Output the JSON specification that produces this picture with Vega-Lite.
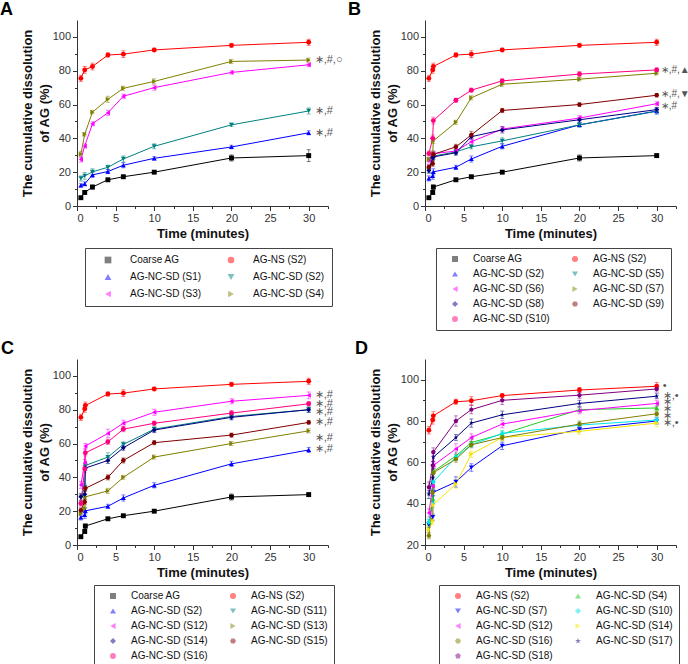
{
  "$schema": "https://vega.github.io/schema/vega-lite/v6.json",
  "padding": {"left": 0, "top": 1, "right": 14, "bottom": 1},
  "config": {
    "font": "Liberation Sans",
    "view": {"stroke": null},
    "axis": {"labelFont": "Liberation Sans", "labelFontSize": 11, "labelColor": "#333", "domainColor": "#333", "tickColor": "#333", "titleFont": "Liberation Sans", "titleFontSize": 13, "titleFontWeight": "bold", "titleColor": "#111", "grid": false, "labelOverlap": false, "labelPadding": 2, "tickCount": 40},
    "axisX": {"titlePadding": 4},
    "axisY": {"titlePadding": 1, "titleLineHeight": 17},
    "legend": {"labelFont": "Liberation Sans", "labelFontSize": 10, "labelColor": "#111"},
    "title": {"anchor": "start", "frame": "group", "fontSize": 18, "fontWeight": "bold", "font": "Liberation Sans", "color": "#000", "offset": 1, "baseline": "alphabetic"}
  },
  "datasets": {
    "A": [
      {"s":"Coarse AG","t":0.5,"v":4.9,"e":0.7},{"s":"Coarse AG","t":1,"v":8,"e":1},{"s":"Coarse AG","t":2,"v":11.2,"e":1.2},{"s":"Coarse AG","t":4,"v":15.5,"e":0.8},{"s":"Coarse AG","t":6,"v":17.3,"e":0.8},{"s":"Coarse AG","t":10,"v":20,"e":0.8},{"s":"Coarse AG","t":20,"v":28.4,"e":1.8},{"s":"Coarse AG","t":30,"v":29.8,"e":3.5},
      {"s":"AG-NS (S2)","t":0.5,"v":75.5,"e":1.8},{"s":"AG-NS (S2)","t":1,"v":80.5,"e":2},{"s":"AG-NS (S2)","t":2,"v":82.5,"e":2},{"s":"AG-NS (S2)","t":4,"v":89.3,"e":1.2},{"s":"AG-NS (S2)","t":6,"v":89.8,"e":2},{"s":"AG-NS (S2)","t":10,"v":92.3,"e":1},{"s":"AG-NS (S2)","t":20,"v":95,"e":1.2},{"s":"AG-NS (S2)","t":30,"v":96.8,"e":1.8},
      {"s":"AG-NC-SD (S1)","t":0.5,"v":12.2,"e":1},{"s":"AG-NC-SD (S1)","t":1,"v":13.1,"e":1.2},{"s":"AG-NC-SD (S1)","t":2,"v":18.4,"e":1.5},{"s":"AG-NC-SD (S1)","t":4,"v":20.4,"e":1.2},{"s":"AG-NC-SD (S1)","t":6,"v":24.1,"e":1.5},{"s":"AG-NC-SD (S1)","t":10,"v":28.2,"e":1},{"s":"AG-NC-SD (S1)","t":20,"v":34.9,"e":1},{"s":"AG-NC-SD (S1)","t":30,"v":43.3,"e":1.2},
      {"s":"AG-NC-SD (S2)","t":0.5,"v":16.3,"e":1.5},{"s":"AG-NC-SD (S2)","t":1,"v":17.8,"e":2},{"s":"AG-NC-SD (S2)","t":2,"v":20.2,"e":1.8},{"s":"AG-NC-SD (S2)","t":4,"v":22.9,"e":1.2},{"s":"AG-NC-SD (S2)","t":6,"v":27.8,"e":1.8},{"s":"AG-NC-SD (S2)","t":10,"v":35.3,"e":1.5},{"s":"AG-NC-SD (S2)","t":20,"v":48,"e":1},{"s":"AG-NC-SD (S2)","t":30,"v":56.2,"e":1.8},
      {"s":"AG-NC-SD (S3)","t":0.5,"v":27.5,"e":1.5},{"s":"AG-NC-SD (S3)","t":1,"v":35.5,"e":1.2},{"s":"AG-NC-SD (S3)","t":2,"v":48.6,"e":1.2},{"s":"AG-NC-SD (S3)","t":4,"v":55.1,"e":1.5},{"s":"AG-NC-SD (S3)","t":6,"v":64.9,"e":1.2},{"s":"AG-NC-SD (S3)","t":10,"v":70,"e":1.5},{"s":"AG-NC-SD (S3)","t":20,"v":79,"e":1},{"s":"AG-NC-SD (S3)","t":30,"v":83.5,"e":1},
      {"s":"AG-NC-SD (S4)","t":0.5,"v":30.6,"e":1.8},{"s":"AG-NC-SD (S4)","t":1,"v":42.4,"e":1},{"s":"AG-NC-SD (S4)","t":2,"v":55.5,"e":1},{"s":"AG-NC-SD (S4)","t":4,"v":63.1,"e":1.8},{"s":"AG-NC-SD (S4)","t":6,"v":69.6,"e":1.2},{"s":"AG-NC-SD (S4)","t":10,"v":73.7,"e":1.5},{"s":"AG-NC-SD (S4)","t":20,"v":85.5,"e":1.2},{"s":"AG-NC-SD (S4)","t":30,"v":86.3,"e":1.2}
    ],
    "B": [
      {"s":"Coarse AG","t":0.5,"v":4.9,"e":0.7},{"s":"Coarse AG","t":1,"v":8,"e":1},{"s":"Coarse AG","t":1.08,"v":11.2,"e":1.2},{"s":"Coarse AG","t":4,"v":15.5,"e":0.8},{"s":"Coarse AG","t":6,"v":17.3,"e":0.8},{"s":"Coarse AG","t":10,"v":20,"e":0.8},{"s":"Coarse AG","t":20,"v":28.4,"e":1.8},{"s":"Coarse AG","t":30,"v":29.8,"e":1},
      {"s":"AG-NS (S2)","t":0.5,"v":75.5,"e":1.8},{"s":"AG-NS (S2)","t":1,"v":80.5,"e":2},{"s":"AG-NS (S2)","t":1.08,"v":82.5,"e":2},{"s":"AG-NS (S2)","t":4,"v":89.3,"e":1.2},{"s":"AG-NS (S2)","t":6,"v":89.8,"e":2},{"s":"AG-NS (S2)","t":10,"v":92.3,"e":1},{"s":"AG-NS (S2)","t":20,"v":95,"e":1.2},{"s":"AG-NS (S2)","t":30,"v":96.8,"e":1.8},
      {"s":"AG-NC-SD (S2)","t":0.5,"v":16.3,"e":1.5},{"s":"AG-NC-SD (S2)","t":1,"v":17.8,"e":2},{"s":"AG-NC-SD (S2)","t":1.08,"v":20.2,"e":1.8},{"s":"AG-NC-SD (S2)","t":4,"v":22.9,"e":1.2},{"s":"AG-NC-SD (S2)","t":6,"v":27.8,"e":1.8},{"s":"AG-NC-SD (S2)","t":10,"v":35.3,"e":1.5},{"s":"AG-NC-SD (S2)","t":20,"v":48,"e":1},{"s":"AG-NC-SD (S2)","t":30,"v":56.2,"e":1.8},
      {"s":"AG-NC-SD (S5)","t":0.5,"v":21,"e":1.5},{"s":"AG-NC-SD (S5)","t":1,"v":28,"e":1.5},{"s":"AG-NC-SD (S5)","t":1.08,"v":29.5,"e":1.5},{"s":"AG-NC-SD (S5)","t":4,"v":32,"e":1.5},{"s":"AG-NC-SD (S5)","t":6,"v":35,"e":1.2},{"s":"AG-NC-SD (S5)","t":10,"v":38.5,"e":1.8},{"s":"AG-NC-SD (S5)","t":20,"v":48,"e":1.5},{"s":"AG-NC-SD (S5)","t":30,"v":56,"e":1.5},
      {"s":"AG-NC-SD (S6)","t":0.5,"v":27,"e":1.5},{"s":"AG-NC-SD (S6)","t":1,"v":30,"e":1.5},{"s":"AG-NC-SD (S6)","t":1.08,"v":31,"e":1.5},{"s":"AG-NC-SD (S6)","t":4,"v":32.5,"e":1.2},{"s":"AG-NC-SD (S6)","t":6,"v":38,"e":1.8},{"s":"AG-NC-SD (S6)","t":10,"v":45.5,"e":1.5},{"s":"AG-NC-SD (S6)","t":20,"v":52,"e":1.5},{"s":"AG-NC-SD (S6)","t":30,"v":60.5,"e":1.2},
      {"s":"AG-NC-SD (S7)","t":0.5,"v":27.5,"e":1.2},{"s":"AG-NC-SD (S7)","t":1,"v":31,"e":1.5},{"s":"AG-NC-SD (S7)","t":1.08,"v":38.5,"e":1.5},{"s":"AG-NC-SD (S7)","t":4,"v":49.5,"e":1.2},{"s":"AG-NC-SD (S7)","t":6,"v":64,"e":1.2},{"s":"AG-NC-SD (S7)","t":10,"v":72,"e":1.2},{"s":"AG-NC-SD (S7)","t":20,"v":75,"e":1},{"s":"AG-NC-SD (S7)","t":30,"v":78.5,"e":1},
      {"s":"AG-NC-SD (S8)","t":0.5,"v":21,"e":1.5},{"s":"AG-NC-SD (S8)","t":1,"v":28.5,"e":1.5},{"s":"AG-NC-SD (S8)","t":1.08,"v":29,"e":1.5},{"s":"AG-NC-SD (S8)","t":4,"v":31.5,"e":1.5},{"s":"AG-NC-SD (S8)","t":6,"v":41,"e":1.5},{"s":"AG-NC-SD (S8)","t":10,"v":45,"e":1.8},{"s":"AG-NC-SD (S8)","t":20,"v":51,"e":1.5},{"s":"AG-NC-SD (S8)","t":30,"v":57,"e":1.2},
      {"s":"AG-NC-SD (S9)","t":0.5,"v":23,"e":1.5},{"s":"AG-NC-SD (S9)","t":1,"v":25,"e":1.5},{"s":"AG-NC-SD (S9)","t":1.08,"v":30.5,"e":1.5},{"s":"AG-NC-SD (S9)","t":4,"v":35,"e":1.5},{"s":"AG-NC-SD (S9)","t":6,"v":42,"e":2.2},{"s":"AG-NC-SD (S9)","t":10,"v":56.5,"e":1.2},{"s":"AG-NC-SD (S9)","t":20,"v":60,"e":1},{"s":"AG-NC-SD (S9)","t":30,"v":65.5,"e":1},
      {"s":"AG-NC-SD (S10)","t":0.5,"v":31,"e":1.5},{"s":"AG-NC-SD (S10)","t":1,"v":40,"e":2},{"s":"AG-NC-SD (S10)","t":1.08,"v":50.5,"e":2},{"s":"AG-NC-SD (S10)","t":4,"v":62.5,"e":1.2},{"s":"AG-NC-SD (S10)","t":6,"v":68.5,"e":1.2},{"s":"AG-NC-SD (S10)","t":10,"v":74,"e":1.2},{"s":"AG-NC-SD (S10)","t":20,"v":78,"e":1.5},{"s":"AG-NC-SD (S10)","t":30,"v":80.5,"e":1.2}
    ],
    "C": [
      {"s":"Coarse AG","t":0.5,"v":4.9,"e":0.7},{"s":"Coarse AG","t":1,"v":8,"e":1},{"s":"Coarse AG","t":1.08,"v":11.2,"e":1.2},{"s":"Coarse AG","t":4,"v":15.5,"e":0.8},{"s":"Coarse AG","t":6,"v":17.3,"e":0.8},{"s":"Coarse AG","t":10,"v":20,"e":0.8},{"s":"Coarse AG","t":20,"v":28.4,"e":1.8},{"s":"Coarse AG","t":30,"v":29.8,"e":1},
      {"s":"AG-NS (S2)","t":0.5,"v":75.5,"e":1.8},{"s":"AG-NS (S2)","t":1,"v":80.5,"e":2},{"s":"AG-NS (S2)","t":1.08,"v":82.5,"e":2},{"s":"AG-NS (S2)","t":4,"v":89.3,"e":1.2},{"s":"AG-NS (S2)","t":6,"v":89.8,"e":2},{"s":"AG-NS (S2)","t":10,"v":92.3,"e":1},{"s":"AG-NS (S2)","t":20,"v":95,"e":1.2},{"s":"AG-NS (S2)","t":30,"v":96.8,"e":1.8},
      {"s":"AG-NC-SD (S2)","t":0.5,"v":16.3,"e":1.5},{"s":"AG-NC-SD (S2)","t":1,"v":17.8,"e":2},{"s":"AG-NC-SD (S2)","t":1.08,"v":20.2,"e":1.8},{"s":"AG-NC-SD (S2)","t":4,"v":22.9,"e":1.2},{"s":"AG-NC-SD (S2)","t":6,"v":27.8,"e":1.8},{"s":"AG-NC-SD (S2)","t":10,"v":35.3,"e":1.5},{"s":"AG-NC-SD (S2)","t":20,"v":48,"e":1.5},{"s":"AG-NC-SD (S2)","t":30,"v":56.2,"e":1.5},
      {"s":"AG-NC-SD (S11)","t":0.5,"v":28,"e":2},{"s":"AG-NC-SD (S11)","t":1,"v":34,"e":2},{"s":"AG-NC-SD (S11)","t":1.08,"v":47,"e":2},{"s":"AG-NC-SD (S11)","t":4,"v":52,"e":2.5},{"s":"AG-NC-SD (S11)","t":6,"v":59.5,"e":1.5},{"s":"AG-NC-SD (S11)","t":10,"v":68.5,"e":1.5},{"s":"AG-NC-SD (S11)","t":20,"v":76,"e":1.5},{"s":"AG-NC-SD (S11)","t":30,"v":80,"e":1.5},
      {"s":"AG-NC-SD (S12)","t":0.5,"v":35.5,"e":2},{"s":"AG-NC-SD (S12)","t":1,"v":48.5,"e":2},{"s":"AG-NC-SD (S12)","t":1.08,"v":58.5,"e":1.5},{"s":"AG-NC-SD (S12)","t":4,"v":66,"e":2.5},{"s":"AG-NC-SD (S12)","t":6,"v":72,"e":1.8},{"s":"AG-NC-SD (S12)","t":10,"v":78.5,"e":1.8},{"s":"AG-NC-SD (S12)","t":20,"v":85,"e":1.5},{"s":"AG-NC-SD (S12)","t":30,"v":88.5,"e":2},
      {"s":"AG-NC-SD (S13)","t":0.5,"v":18.5,"e":1.5},{"s":"AG-NC-SD (S13)","t":1,"v":21.5,"e":1.5},{"s":"AG-NC-SD (S13)","t":1.08,"v":28.5,"e":1.5},{"s":"AG-NC-SD (S13)","t":4,"v":32,"e":1.5},{"s":"AG-NC-SD (S13)","t":6,"v":40,"e":1.2},{"s":"AG-NC-SD (S13)","t":10,"v":52,"e":1.2},{"s":"AG-NC-SD (S13)","t":20,"v":60,"e":1.2},{"s":"AG-NC-SD (S13)","t":30,"v":67.5,"e":1.2},
      {"s":"AG-NC-SD (S14)","t":0.5,"v":28.5,"e":2},{"s":"AG-NC-SD (S14)","t":1,"v":30,"e":2},{"s":"AG-NC-SD (S14)","t":1.08,"v":45.5,"e":1.5},{"s":"AG-NC-SD (S14)","t":4,"v":50,"e":1.8},{"s":"AG-NC-SD (S14)","t":6,"v":57.5,"e":1.5},{"s":"AG-NC-SD (S14)","t":10,"v":68,"e":1.5},{"s":"AG-NC-SD (S14)","t":20,"v":75.5,"e":1.5},{"s":"AG-NC-SD (S14)","t":30,"v":80,"e":1.5},
      {"s":"AG-NC-SD (S15)","t":0.5,"v":20.5,"e":1.5},{"s":"AG-NC-SD (S15)","t":1,"v":25.5,"e":1.5},{"s":"AG-NC-SD (S15)","t":1.08,"v":33.5,"e":1.5},{"s":"AG-NC-SD (S15)","t":4,"v":40,"e":1.5},{"s":"AG-NC-SD (S15)","t":6,"v":50,"e":1.5},{"s":"AG-NC-SD (S15)","t":10,"v":60.5,"e":1.2},{"s":"AG-NC-SD (S15)","t":20,"v":65,"e":1.2},{"s":"AG-NC-SD (S15)","t":30,"v":72.5,"e":1},
      {"s":"AG-NC-SD (S16)","t":0.5,"v":24.5,"e":1.5},{"s":"AG-NC-SD (S16)","t":1,"v":45,"e":2},{"s":"AG-NC-SD (S16)","t":1.08,"v":54.5,"e":1.8},{"s":"AG-NC-SD (S16)","t":4,"v":61,"e":1.5},{"s":"AG-NC-SD (S16)","t":6,"v":68.5,"e":1.5},{"s":"AG-NC-SD (S16)","t":10,"v":72,"e":1.2},{"s":"AG-NC-SD (S16)","t":20,"v":78,"e":1.5},{"s":"AG-NC-SD (S16)","t":30,"v":83.5,"e":1.2}
    ],
    "D": [
      {"s":"AG-NS (S2)","t":0.5,"v":75.5,"e":1.8},{"s":"AG-NS (S2)","t":1,"v":80.5,"e":2},{"s":"AG-NS (S2)","t":1.08,"v":82.5,"e":2},{"s":"AG-NS (S2)","t":4,"v":89.3,"e":1.2},{"s":"AG-NS (S2)","t":6,"v":89.8,"e":2},{"s":"AG-NS (S2)","t":10,"v":92.3,"e":1},{"s":"AG-NS (S2)","t":20,"v":95,"e":1.2},{"s":"AG-NS (S2)","t":30,"v":96.8,"e":1.8},
      {"s":"AG-NC-SD (S4)","t":0.5,"v":30.6,"e":1.8},{"s":"AG-NC-SD (S4)","t":1,"v":42.4,"e":1.5},{"s":"AG-NC-SD (S4)","t":1.08,"v":55.5,"e":1.5},{"s":"AG-NC-SD (S4)","t":4,"v":63.1,"e":1.8},{"s":"AG-NC-SD (S4)","t":6,"v":69.6,"e":1.5},{"s":"AG-NC-SD (S4)","t":10,"v":73.7,"e":1.5},{"s":"AG-NC-SD (S4)","t":20,"v":85.5,"e":1.2},{"s":"AG-NC-SD (S4)","t":30,"v":86.3,"e":1.2},
      {"s":"AG-NC-SD (S7)","t":0.5,"v":30,"e":1.5},{"s":"AG-NC-SD (S7)","t":1,"v":33.5,"e":1.5},{"s":"AG-NC-SD (S7)","t":1.08,"v":45.5,"e":1.5},{"s":"AG-NC-SD (S7)","t":4,"v":50.5,"e":2.5},{"s":"AG-NC-SD (S7)","t":6,"v":57.5,"e":1.8},{"s":"AG-NC-SD (S7)","t":10,"v":68,"e":1.8},{"s":"AG-NC-SD (S7)","t":20,"v":76,"e":1.2},{"s":"AG-NC-SD (S7)","t":30,"v":80,"e":1.5},
      {"s":"AG-NC-SD (S10)","t":0.5,"v":31,"e":1.5},{"s":"AG-NC-SD (S10)","t":1,"v":40,"e":2},{"s":"AG-NC-SD (S10)","t":1.08,"v":50.5,"e":2},{"s":"AG-NC-SD (S10)","t":4,"v":62.5,"e":1.2},{"s":"AG-NC-SD (S10)","t":6,"v":68.5,"e":1.2},{"s":"AG-NC-SD (S10)","t":10,"v":74,"e":1.2},{"s":"AG-NC-SD (S10)","t":20,"v":78,"e":1.5},{"s":"AG-NC-SD (S10)","t":30,"v":80.5,"e":1.2},
      {"s":"AG-NC-SD (S12)","t":0.5,"v":35.5,"e":2},{"s":"AG-NC-SD (S12)","t":1,"v":48.5,"e":2},{"s":"AG-NC-SD (S12)","t":1.08,"v":58.5,"e":1.5},{"s":"AG-NC-SD (S12)","t":4,"v":66.5,"e":2.5},{"s":"AG-NC-SD (S12)","t":6,"v":72,"e":1.8},{"s":"AG-NC-SD (S12)","t":10,"v":78.5,"e":1.8},{"s":"AG-NC-SD (S12)","t":20,"v":85,"e":1.5},{"s":"AG-NC-SD (S12)","t":30,"v":88.5,"e":1.5},
      {"s":"AG-NC-SD (S14)","t":0.5,"v":27.5,"e":1.5},{"s":"AG-NC-SD (S14)","t":1,"v":31.5,"e":1.5},{"s":"AG-NC-SD (S14)","t":1.08,"v":39.5,"e":1.5},{"s":"AG-NC-SD (S14)","t":4,"v":49.5,"e":2},{"s":"AG-NC-SD (S14)","t":6,"v":64,"e":1.5},{"s":"AG-NC-SD (S14)","t":10,"v":72,"e":1.5},{"s":"AG-NC-SD (S14)","t":20,"v":75,"e":1.5},{"s":"AG-NC-SD (S14)","t":30,"v":79,"e":1.8},
      {"s":"AG-NC-SD (S16)","t":0.5,"v":24.5,"e":1.5},{"s":"AG-NC-SD (S16)","t":1,"v":45.5,"e":2},{"s":"AG-NC-SD (S16)","t":1.08,"v":55,"e":1.8},{"s":"AG-NC-SD (S16)","t":4,"v":61.5,"e":1.5},{"s":"AG-NC-SD (S16)","t":6,"v":68.5,"e":1.5},{"s":"AG-NC-SD (S16)","t":10,"v":72,"e":1.2},{"s":"AG-NC-SD (S16)","t":20,"v":78.5,"e":1.5},{"s":"AG-NC-SD (S16)","t":30,"v":83.5,"e":1.2},
      {"s":"AG-NC-SD (S17)","t":0.5,"v":44.5,"e":2},{"s":"AG-NC-SD (S17)","t":1,"v":52.5,"e":2},{"s":"AG-NC-SD (S17)","t":1.08,"v":62.5,"e":2},{"s":"AG-NC-SD (S17)","t":4,"v":72,"e":1.5},{"s":"AG-NC-SD (S17)","t":6,"v":79,"e":2},{"s":"AG-NC-SD (S17)","t":10,"v":83,"e":1.8},{"s":"AG-NC-SD (S17)","t":20,"v":88.5,"e":1.5},{"s":"AG-NC-SD (S17)","t":30,"v":92,"e":1.2},
      {"s":"AG-NC-SD (S18)","t":0.5,"v":48,"e":2.5},{"s":"AG-NC-SD (S18)","t":1,"v":58.5,"e":2},{"s":"AG-NC-SD (S18)","t":1.08,"v":65,"e":2},{"s":"AG-NC-SD (S18)","t":4,"v":80,"e":2.5},{"s":"AG-NC-SD (S18)","t":6,"v":85.5,"e":2},{"s":"AG-NC-SD (S18)","t":10,"v":90,"e":2},{"s":"AG-NC-SD (S18)","t":20,"v":92.5,"e":1.5},{"s":"AG-NC-SD (S18)","t":30,"v":95.5,"e":1.5}
    ],
    "annA": [{"t":30,"v":86.3,"label":"∗,#,○"},{"t":30,"v":56.2,"label":"∗,#"},{"t":30,"v":43.3,"label":"∗,#"}],
    "annB": [{"t":30,"v":80.5,"label":"∗,#,▲"},{"t":30,"v":66,"label":"∗,#,▼"},{"t":30,"v":59,"label":"∗,#"}],
    "annC": [{"t":30,"v":89,"label":"∗,#"},{"t":30,"v":83.5,"label":"∗,#"},{"t":30,"v":78.5,"label":"∗,#"},{"t":30,"v":72.5,"label":"∗,#"},{"t":30,"v":63.5,"label":"∗,#"},{"t":30,"v":56.5,"label":"∗,#"}],
    "annD": [{"t":30,"v":97,"label":"•"},{"t":30,"v":92.2,"label":"∗,•"},{"t":30,"v":89.2,"label":"∗"},{"t":30,"v":85.8,"label":"∗"},{"t":30,"v":82.3,"label":"∗"},{"t":30,"v":78.8,"label":"∗,•"}]
  },
  "columns": 2,
  "spacing": {"row": 153, "column": 97},
  "bounds": "flush",
  "resolve": {"scale": {"color": "independent", "shape": "independent", "x": "independent", "y": "independent"}, "legend": {"color": "independent", "shape": "independent"}, "axis": {"x": "independent", "y": "independent"}},
  "concat": [
    {
      "width": 251, "height": 186,
      "title": {"text": "A", "dx": -77},
      "layer": [
        {"data": {"name": "A"}, "mark": {"type": "errorbar", "ticks": true, "size": 4, "opacity": 0.5},
         "encoding": {
           "x": {"field": "t", "type": "quantitative", "scale": {"domain": [0, 32.5], "nice": false},
                 "axis": {"title": "Time (minutes)", "tickCount": 40, "labelOverlap": false, "values": [0,2.5,5,7.5,10,12.5,15,17.5,20,22.5,25,27.5,30,32.5], "labelExpr": "datum.value % 5 === 0 ? datum.label : ''", "tickSize": {"condition": {"test": "datum.value % 5 !== 0", "value": 2.5}, "value": 4.5}}},
           "y": {"field": "v", "type": "quantitative", "scale": {"domain": [0, 110], "nice": false},
                 "axis": {"title": ["The cumulative dissolution", "of AG (%)"], "tickCount": 40, "labelOverlap": false, "values": [0,10,20,30,40,50,60,70,80,90,100], "labelExpr": "datum.value % 20 === 0 ? datum.label : ''", "tickSize": {"condition": {"test": "datum.value % 20 !== 0", "value": 2.5}, "value": 4.5}}},
           "yError": {"field": "e"},
           "color": {"field": "s", "type": "nominal"}
         }},
        {"data": {"name": "A"}, "mark": {"type": "line", "strokeWidth": 1},
         "encoding": {"x": {"field": "t", "type": "quantitative"}, "y": {"field": "v", "type": "quantitative"}, "color": {"field": "s", "type": "nominal"}}},
        {"data": {"name": "A"}, "mark": {"type": "point", "filled": true, "size": 24, "opacity": 1},
         "encoding": {
           "x": {"field": "t", "type": "quantitative"}, "y": {"field": "v", "type": "quantitative"},
           "color": {"field": "s", "type": "nominal",
             "scale": {"domain": ["Coarse AG","AG-NS (S2)","AG-NC-SD (S1)","AG-NC-SD (S2)","AG-NC-SD (S3)","AG-NC-SD (S4)"], "range": ["#000000","#FF0000","#0000FF","#008080","#FF00FF","#808000"]},
             "legend": {"orient": "none", "legendX": 8, "legendY": 228, "direction": "horizontal", "title": null, "columns": 2, "strokeColor": "#444", "fillColor": "#fff", "padding": 7, "symbolSize": 45, "symbolOffset": 11, "labelOffset": 17, "columnPadding": 13, "rowPadding": 7, "symbolStrokeWidth": 0, "symbolOpacity": 1}},
           "shape": {"field": "s", "type": "nominal",
             "scale": {"domain": ["Coarse AG","AG-NS (S2)","AG-NC-SD (S1)","AG-NC-SD (S2)","AG-NC-SD (S3)","AG-NC-SD (S4)"], "range": ["square","circle","triangle-up","triangle-down","triangle-left","triangle-right"]}}
         }},
        {"data": {"name": "annA"}, "mark": {"type": "text", "align": "left", "baseline": "middle", "dx": 6, "fontSize": 11, "color": "#555"},
         "encoding": {"x": {"field": "t", "type": "quantitative"}, "y": {"field": "v", "type": "quantitative"}, "text": {"field": "label"}}}
      ]
    },
    {
      "width": 251, "height": 186,
      "title": {"text": "B", "dx": -77},
      "layer": [
        {"data": {"name": "B"}, "mark": {"type": "errorbar", "ticks": true, "size": 4, "opacity": 0.5},
         "encoding": {
           "x": {"field": "t", "type": "quantitative", "scale": {"domain": [0, 32.5], "nice": false},
                 "axis": {"title": "Time (minutes)", "tickCount": 40, "labelOverlap": false, "values": [0,2.5,5,7.5,10,12.5,15,17.5,20,22.5,25,27.5,30,32.5], "labelExpr": "datum.value % 5 === 0 ? datum.label : ''", "tickSize": {"condition": {"test": "datum.value % 5 !== 0", "value": 2.5}, "value": 4.5}}},
           "y": {"field": "v", "type": "quantitative", "scale": {"domain": [0, 110], "nice": false},
                 "axis": {"title": ["The cumulative dissolution", "of AG (%)"], "tickCount": 40, "labelOverlap": false, "values": [0,10,20,30,40,50,60,70,80,90,100], "labelExpr": "datum.value % 20 === 0 ? datum.label : ''", "tickSize": {"condition": {"test": "datum.value % 20 !== 0", "value": 2.5}, "value": 4.5}}},
           "yError": {"field": "e"},
           "color": {"field": "s", "type": "nominal"}
         }},
        {"data": {"name": "B"}, "mark": {"type": "line", "strokeWidth": 1},
         "encoding": {"x": {"field": "t", "type": "quantitative"}, "y": {"field": "v", "type": "quantitative"}, "color": {"field": "s", "type": "nominal"}}},
        {"data": {"name": "B"}, "mark": {"type": "point", "filled": true, "size": 24, "opacity": 1},
         "encoding": {
           "x": {"field": "t", "type": "quantitative"}, "y": {"field": "v", "type": "quantitative"},
           "color": {"field": "s", "type": "nominal",
             "scale": {"domain": ["Coarse AG","AG-NS (S2)","AG-NC-SD (S2)","AG-NC-SD (S5)","AG-NC-SD (S6)","AG-NC-SD (S7)","AG-NC-SD (S8)","AG-NC-SD (S9)","AG-NC-SD (S10)"], "range": ["#000000","#FF0000","#0000FF","#008080","#FF00FF","#808000","#000080","#800000","#FF0080"]},
             "legend": {"orient": "none", "legendX": 11, "legendY": 228, "direction": "horizontal", "title": null, "columns": 2, "strokeColor": "#444", "fillColor": "#fff", "padding": 6, "symbolSize": 36, "symbolOffset": 8, "labelOffset": 13, "columnPadding": 12, "rowPadding": 5, "symbolStrokeWidth": 0, "symbolOpacity": 1}},
           "shape": {"field": "s", "type": "nominal",
             "scale": {"domain": ["Coarse AG","AG-NS (S2)","AG-NC-SD (S2)","AG-NC-SD (S5)","AG-NC-SD (S6)","AG-NC-SD (S7)","AG-NC-SD (S8)","AG-NC-SD (S9)","AG-NC-SD (S10)"], "range": ["square","circle","triangle-up","triangle-down","triangle-left","triangle-right","diamond","M-1,0L-0.5,-0.866L0.5,-0.866L1,0L0.5,0.866L-0.5,0.866Z","circle"]}}
         }},
        {"data": {"name": "annB"}, "mark": {"type": "text", "align": "left", "baseline": "middle", "dx": 4, "fontSize": 10, "color": "#555"},
         "encoding": {"x": {"field": "t", "type": "quantitative"}, "y": {"field": "v", "type": "quantitative"}, "text": {"field": "label"}}}
      ]
    },
    {
      "width": 251, "height": 186,
      "title": {"text": "C", "dx": -76},
      "layer": [
        {"data": {"name": "C"}, "mark": {"type": "errorbar", "ticks": true, "size": 4, "opacity": 0.5},
         "encoding": {
           "x": {"field": "t", "type": "quantitative", "scale": {"domain": [0, 32.5], "nice": false},
                 "axis": {"title": "Time (minutes)", "tickCount": 40, "labelOverlap": false, "values": [0,2.5,5,7.5,10,12.5,15,17.5,20,22.5,25,27.5,30,32.5], "labelExpr": "datum.value % 5 === 0 ? datum.label : ''", "tickSize": {"condition": {"test": "datum.value % 5 !== 0", "value": 2.5}, "value": 4.5}}},
           "y": {"field": "v", "type": "quantitative", "scale": {"domain": [0, 110], "nice": false},
                 "axis": {"title": ["The cumulative dissolution", "of AG (%)"], "tickCount": 40, "labelOverlap": false, "values": [0,10,20,30,40,50,60,70,80,90,100], "labelExpr": "datum.value % 20 === 0 ? datum.label : ''", "tickSize": {"condition": {"test": "datum.value % 20 !== 0", "value": 2.5}, "value": 4.5}}},
           "yError": {"field": "e"},
           "color": {"field": "s", "type": "nominal"}
         }},
        {"data": {"name": "C"}, "mark": {"type": "line", "strokeWidth": 1},
         "encoding": {"x": {"field": "t", "type": "quantitative"}, "y": {"field": "v", "type": "quantitative"}, "color": {"field": "s", "type": "nominal"}}},
        {"data": {"name": "C"}, "mark": {"type": "point", "filled": true, "size": 24, "opacity": 1},
         "encoding": {
           "x": {"field": "t", "type": "quantitative"}, "y": {"field": "v", "type": "quantitative"},
           "color": {"field": "s", "type": "nominal",
             "scale": {"domain": ["Coarse AG","AG-NS (S2)","AG-NC-SD (S2)","AG-NC-SD (S11)","AG-NC-SD (S12)","AG-NC-SD (S13)","AG-NC-SD (S14)","AG-NC-SD (S15)","AG-NC-SD (S16)"], "range": ["#000000","#FF0000","#0000FF","#008080","#FF00FF","#808000","#000080","#800000","#FF0080"]},
             "legend": {"orient": "none", "legendX": 17, "legendY": 226, "direction": "horizontal", "title": null, "columns": 2, "strokeColor": "#444", "fillColor": "#fff", "padding": 6, "symbolSize": 36, "symbolOffset": 8, "labelOffset": 13, "columnPadding": 12, "rowPadding": 5, "symbolStrokeWidth": 0, "symbolOpacity": 1}},
           "shape": {"field": "s", "type": "nominal",
             "scale": {"domain": ["Coarse AG","AG-NS (S2)","AG-NC-SD (S2)","AG-NC-SD (S11)","AG-NC-SD (S12)","AG-NC-SD (S13)","AG-NC-SD (S14)","AG-NC-SD (S15)","AG-NC-SD (S16)"], "range": ["square","circle","triangle-up","triangle-down","triangle-left","triangle-right","diamond","M-1,0L-0.5,-0.866L0.5,-0.866L1,0L0.5,0.866L-0.5,0.866Z","circle"]}}
         }},
        {"data": {"name": "annC"}, "mark": {"type": "text", "align": "left", "baseline": "middle", "dx": 6, "fontSize": 11, "color": "#555"},
         "encoding": {"x": {"field": "t", "type": "quantitative"}, "y": {"field": "v", "type": "quantitative"}, "text": {"field": "label"}}}
      ]
    },
    {
      "width": 251, "height": 186,
      "title": {"text": "D", "dx": -70},
      "layer": [
        {"data": {"name": "D"}, "mark": {"type": "errorbar", "ticks": true, "size": 4, "opacity": 0.5},
         "encoding": {
           "x": {"field": "t", "type": "quantitative", "scale": {"domain": [0, 32.5], "nice": false},
                 "axis": {"title": "Time (minutes)", "tickCount": 40, "labelOverlap": false, "values": [0,2.5,5,7.5,10,12.5,15,17.5,20,22.5,25,27.5,30,32.5], "labelExpr": "datum.value % 5 === 0 ? datum.label : ''", "tickSize": {"condition": {"test": "datum.value % 5 !== 0", "value": 2.5}, "value": 4.5}}},
           "y": {"field": "v", "type": "quantitative", "scale": {"domain": [20, 110], "nice": false},
                 "axis": {"title": ["The cumulative dissolution", "of AG (%)"], "tickCount": 40, "labelOverlap": false, "values": [20,30,40,50,60,70,80,90,100], "labelExpr": "datum.value % 20 === 0 ? datum.label : ''", "tickSize": {"condition": {"test": "datum.value % 20 !== 0", "value": 2.5}, "value": 4.5}}},
           "yError": {"field": "e"},
           "color": {"field": "s", "type": "nominal"}
         }},
        {"data": {"name": "D"}, "mark": {"type": "line", "strokeWidth": 1},
         "encoding": {"x": {"field": "t", "type": "quantitative"}, "y": {"field": "v", "type": "quantitative"}, "color": {"field": "s", "type": "nominal"}}},
        {"data": {"name": "D"}, "mark": {"type": "point", "filled": true, "size": 24, "opacity": 1},
         "encoding": {
           "x": {"field": "t", "type": "quantitative"}, "y": {"field": "v", "type": "quantitative"},
           "color": {"field": "s", "type": "nominal",
             "scale": {"domain": ["AG-NS (S2)","AG-NC-SD (S4)","AG-NC-SD (S7)","AG-NC-SD (S10)","AG-NC-SD (S12)","AG-NC-SD (S14)","AG-NC-SD (S16)","AG-NC-SD (S17)","AG-NC-SD (S18)"], "range": ["#FF0000","#22CC22","#0000FF","#00E5EE","#FF00FF","#F5E400","#808000","#000080","#800080"]},
             "legend": {"orient": "none", "legendX": 14, "legendY": 226, "direction": "horizontal", "title": null, "columns": 2, "strokeColor": "#444", "fillColor": "#fff", "padding": 6, "symbolSize": 36, "symbolOffset": 8, "labelOffset": 13, "columnPadding": 12, "rowPadding": 5, "symbolStrokeWidth": 0, "symbolOpacity": 1}},
           "shape": {"field": "s", "type": "nominal",
             "scale": {"domain": ["AG-NS (S2)","AG-NC-SD (S4)","AG-NC-SD (S7)","AG-NC-SD (S10)","AG-NC-SD (S12)","AG-NC-SD (S14)","AG-NC-SD (S16)","AG-NC-SD (S17)","AG-NC-SD (S18)"], "range": ["circle","triangle-up","triangle-down","diamond","triangle-left","triangle-right","M-1,0L-0.5,-0.866L0.5,-0.866L1,0L0.5,0.866L-0.5,0.866Z","M0,-1L0.2245,-0.309L0.951,-0.309L0.363,0.118L0.588,0.809L0,0.382L-0.588,0.809L-0.363,0.118L-0.951,-0.309L-0.2245,-0.309Z","M0,-1L0.951,-0.309L0.588,0.809L-0.588,0.809L-0.951,-0.309Z"]}}
         }},
        {"data": {"name": "annD"}, "mark": {"type": "text", "align": "left", "baseline": "middle", "dx": 6, "fontSize": 11, "color": "#555"},
         "encoding": {"x": {"field": "t", "type": "quantitative"}, "y": {"field": "v", "type": "quantitative"}, "text": {"field": "label"}}}
      ]
    }
  ]
}
